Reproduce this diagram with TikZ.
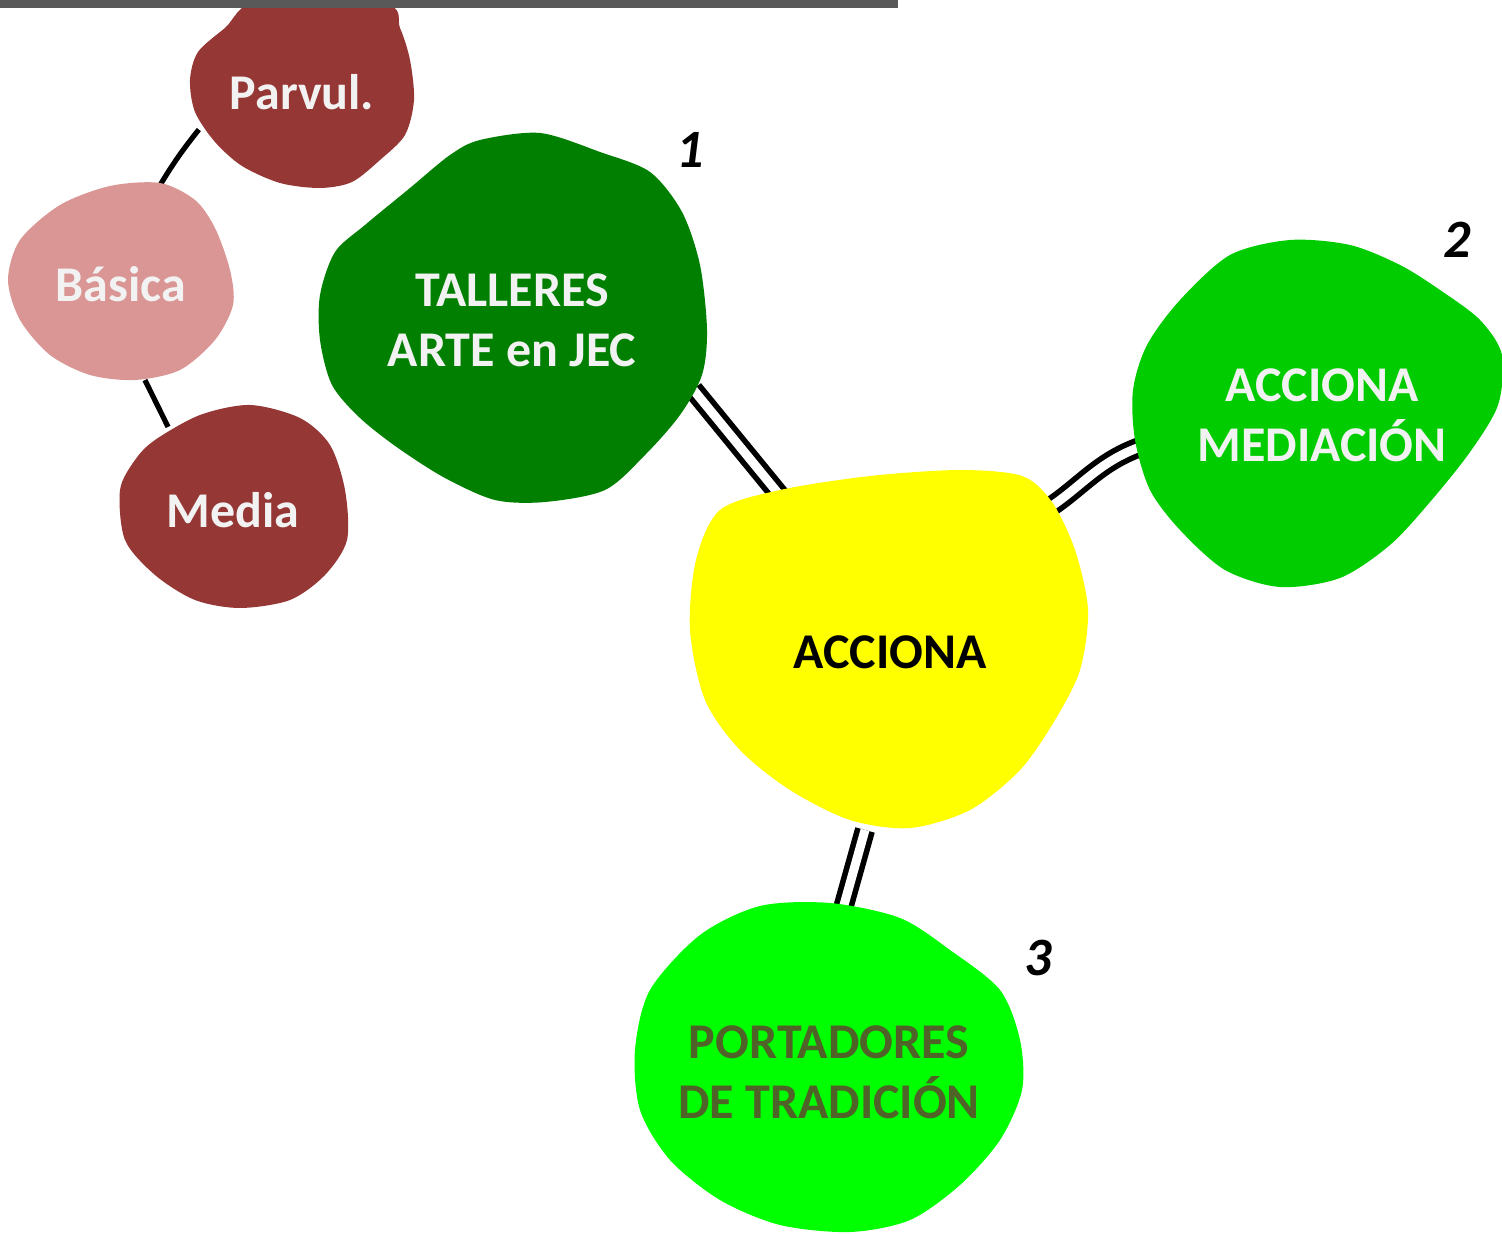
\documentclass[tikz,border=0pt]{standalone}
\usepackage{fontspec}
\setmainfont{Carlito}
\usetikzlibrary{shapes.geometric}
\pgfdeclarelayer{bg}
\pgfsetlayers{bg,main}
\definecolor{dred}{HTML}{953735}
\definecolor{pink}{HTML}{D99694}
\definecolor{dgreen}{HTML}{007F00}
\definecolor{mgreen}{HTML}{00CC00}
\definecolor{lgreen}{HTML}{00FF00}
\definecolor{yel}{HTML}{FFFF00}
\definecolor{olive}{HTML}{4F6228}
\definecolor{light}{HTML}{F2F2F2}
\definecolor{bar}{HTML}{595959}
\begin{document}
\begin{tikzpicture}[x=0.5pt,y=-0.5pt]\tikzset{blob/.style = {shape=ellipse, inner sep=0pt, align=center, text=light, font=\bfseries\fontsize{25}{30}\selectfont},
	link/.style = {line width=2.8pt, double=white, double distance=4.5pt},
	stem/.style = {line width=2.6pt},
	num/.style = {font=\bfseries\itshape\fontsize{27}{27}\selectfont}}

		\useasboundingbox (0,0) rectangle (1502,1234);

		\fill[dred] plot[smooth cycle] coordinates {(260,0) (225,28) (198,52) (190,80) (195,112) (215,142) (242,166) (280,183) (320,188) (352,182) (380,160) (405,135) (414,100) (410,60) (400,28) (385,4)};
		\fill[pink] plot[smooth cycle] coordinates {(60,205) (110,186) (160,183) (195,200) (215,228) (230,270) (233,305) (215,340) (180,370) (135,380) (90,375) (50,355) (20,320) (8,280) (20,240)};
		\fill[dred] plot[smooth cycle] coordinates {(155,440) (200,415) (250,405) (300,418) (330,445) (345,490) (347,540) (325,575) (290,600) (240,608) (195,600) (155,575) (125,540) (120,490) (135,460)};
		\fill[dgreen] plot[smooth cycle] coordinates {(480,140) (540,133) (600,152) (650,172) (682,212) (700,265) (707,330) (702,375) (680,415) (645,455) (605,490) (545,502) (495,500) (445,478) (398,448) (360,418) (332,385) (320,340) (320,295) (335,252) (365,225) (410,188) (450,155)};
		\fill[mgreen] plot[smooth cycle] coordinates {(1180,300) (1230,255) (1290,240) (1350,245) (1400,265) (1440,290) (1480,320) (1502,355) (1498,405) (1470,452) (1430,502) (1390,545) (1340,578) (1280,587) (1225,570) (1180,530) (1150,490) (1135,440) (1133,390) (1147,345)};
		\fill[yel] plot[smooth cycle] coordinates {(780,490) (870,476) (960,470) (1022,476) (1052,502) (1075,550) (1088,610) (1080,670) (1055,720) (1020,770) (970,810) (910,828) (850,820) (790,790) (740,750) (705,700) (690,630) (696,560) (720,510)};
		\fill[lgreen] plot[smooth cycle] coordinates {(700,935) (760,906) (830,903) (900,918) (950,950) (1000,990) (1020,1040) (1022,1090) (1000,1140) (960,1185) (910,1220) (850,1232) (780,1225) (720,1200) (670,1160) (640,1110) (635,1050) (650,990)};

		\node[blob, minimum width=113pt, minimum height=90pt] (parv) at (302,92) {Parvul.};
		\node[blob, minimum width=112pt, minimum height=98pt] (bas) at (121,284) {Básica};
		\node[blob, minimum width=113pt, minimum height=101pt] (media) at (233,510) {Media};
		\node[blob, minimum width=195pt, minimum height=185pt] (tall) at (512,320) {TALLERES\\ARTE en JEC};
		\node[blob, minimum width=185pt, minimum height=175pt] (med) at (1322,415) {ACCIONA\\MEDIACIÓN};
		\node[blob, minimum width=199pt, minimum height=179pt, text=black] (acc) at (890,652) {ACCIONA};
		\node[blob, minimum width=194pt, minimum height=165pt, text=olive] (port) at (829,1072) {PORTADORES\\DE TRADICIÓN};

		\node[num] (n1) at (690,150) {1};
		\node[num] (n2) at (1457,240) {2};
		\node[num] (n3) at (1038,958) {3};

		\begin{pgfonlayer}{bg}
		\draw[stem] (bas.69) to[bend left=4] (parv.200);
		\draw[stem] (bas.-76) -- (media.128);
		\draw[link] (tall.-21) -- (acc.125);
		\draw[link] (acc.44) to[out=25,in=200] (med.190);
		\draw[link] (acc.-98) -- (port.85);
		\end{pgfonlayer}

		\fill[bar] (0,0) rectangle (898,8);
	\end{tikzpicture}
\end{document}
